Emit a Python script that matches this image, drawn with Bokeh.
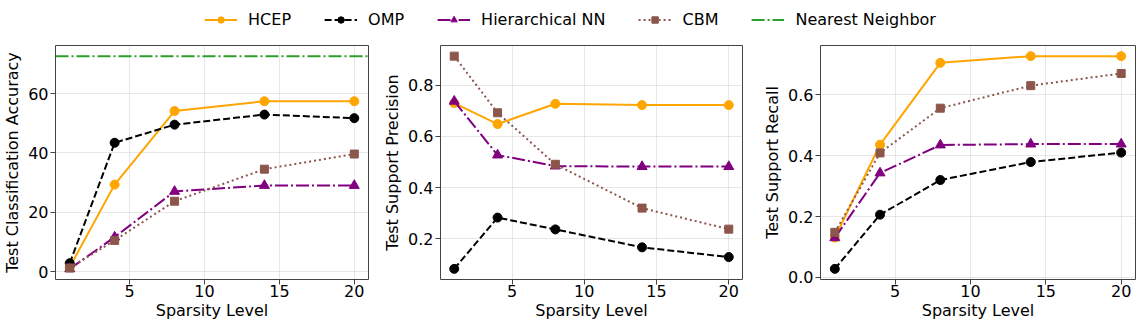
from bokeh.plotting import figure
from bokeh.layouts import column, row
from bokeh.models import Range1d, FixedTicker, PrintfTickFormatter, Span, Legend, LegendItem, ColumnDataSource
from bokeh.embed import file_html
from bokeh.resources import INLINE

# ---- data ----
sparsity = [1, 4, 8, 14, 20]
series_names = ["HCEP", "OMP", "Hierarchical NN", "CBM"]
acc_hcep = [1.5, 29.3, 54.1, 57.4, 57.4]
acc_omp = [2.8, 43.4, 49.5, 52.9, 51.7]
acc_hnn = [0.9, 11.6, 27.0, 29.0, 29.0]
acc_cbm = [1.2, 10.5, 23.7, 34.5, 39.6]
acc_nearest = 72.6
prec_hcep = [0.730, 0.648, 0.727, 0.722, 0.722]
prec_omp = [0.083, 0.283, 0.237, 0.167, 0.129]
prec_hnn = [0.737, 0.527, 0.484, 0.482, 0.482]
prec_cbm = [0.913, 0.692, 0.491, 0.320, 0.238]
rec_hcep = [0.131, 0.436, 0.705, 0.727, 0.727]
rec_omp = [0.028, 0.206, 0.320, 0.379, 0.410]
rec_hnn = [0.130, 0.343, 0.435, 0.438, 0.438]
rec_cbm = [0.148, 0.409, 0.556, 0.630, 0.670]
x_ticks = [5, 10, 15, 20]
acc_ticks = [0, 20, 40, 60]
prec_ticks = [0.2, 0.4, 0.6, 0.8]
rec_ticks = [0.0, 0.2, 0.4, 0.6]

# ---- styles ----
FONT = "DejaVu Sans"
FS = "16px"
styles = {
    "HCEP": dict(color="#FFA500", dash="solid", marker="circle", size=9),
    "OMP": dict(color="#000000", dash="7 3", marker="circle", size=9),
    "Hierarchical NN": dict(color="#800080", dash="13 3 2 3", marker="triangle", size=10),
    "CBM": dict(color="#8c564b", dash="2 3", marker="square", size=8),
}
NN_COLOR = "#2ca02c"
NN_DASH = "13 3 2 3"


def padded(vals):
    lo, hi = min(vals), max(vals)
    pad = 0.05 * (hi - lo)
    return Range1d(lo - pad, hi + pad)


def style_axis(ax, tick_standoff, label_standoff):
    ax.axis_line_color = None
    ax.major_tick_out = 5
    ax.major_tick_in = 0
    ax.minor_tick_line_color = None
    ax.major_tick_line_color = "#444444"
    ax.major_label_text_font = FONT
    ax.major_label_text_font_size = FS
    ax.major_label_text_color = "black"
    ax.axis_label_text_font = FONT
    ax.axis_label_text_font_size = FS
    ax.axis_label_text_font_style = "normal"
    ax.axis_label_text_color = "black"
    ax.major_label_standoff = tick_standoff
    ax.axis_label_standoff = label_standoff


def panel(width, height, left, right, ylabel, series, yticks, yfmt, extra=None):
    allv = [v for s in series for v in s]
    if extra is not None:
        allv.append(extra)
    p = figure(width=width, height=height, output_backend="svg", toolbar_location=None,
               x_range=padded(sparsity), y_range=padded(allv),
               min_border_left=left, min_border_right=right, min_border_top=7, min_border_bottom=44)
    p.outline_line_color = "#444444"
    p.outline_line_width = 1
    style_axis(p.xaxis[0], 0, 1)
    style_axis(p.yaxis[0], 2, 3)
    p.xaxis.ticker = FixedTicker(ticks=x_ticks)
    p.yaxis.ticker = FixedTicker(ticks=yticks)
    p.yaxis.formatter = PrintfTickFormatter(format=yfmt)
    p.xaxis.axis_label = "Sparsity Level"
    p.yaxis.axis_label = ylabel
    p.grid.grid_line_color = "#b0b0b0"
    p.grid.grid_line_alpha = 0.3
    p.grid.grid_line_width = 1
    if extra is not None:
        p.add_layout(Span(location=extra, dimension="width", line_color=NN_COLOR,
                          line_dash=NN_DASH, line_width=2))
    for name, ys in zip(series_names, series):
        st = styles[name]
        src = ColumnDataSource(dict(x=sparsity, y=ys))
        p.line("x", "y", source=src, line_color=st["color"], line_dash=st["dash"], line_width=2)
        p.scatter("x", "y", source=src, marker=st["marker"], size=st["size"],
                  fill_color=st["color"], line_color=st["color"])
    return p


H = 285
p1 = panel(380, H, 53, 12, "Test Classification Accuracy",
           [acc_hcep, acc_omp, acc_hnn, acc_cbm], acc_ticks, "%d", extra=acc_nearest)
p2 = panel(380, H, 56, 18, "Test Support Precision",
           [prec_hcep, prec_omp, prec_hnn, prec_cbm], prec_ticks, "%.1f")
p3 = panel(380, H, 60, 5, "Test Support Recall",
           [rec_hcep, rec_omp, rec_hnn, rec_cbm], rec_ticks, "%.1f")

# ---- legend strip (its renderers hold the accuracy data, kept outside the visible range) ----
lg = figure(width=1140, height=38, output_backend="svg", toolbar_location=None,
            x_range=Range1d(1000, 1001), y_range=Range1d(1000, 1001),
            x_axis_type=None, y_axis_type=None, min_border=0)
lg.outline_line_color = None
lg.grid.grid_line_color = None
items = []
for name, ys in zip(series_names, [acc_hcep, acc_omp, acc_hnn, acc_cbm]):
    st = styles[name]
    src = ColumnDataSource(dict(x=sparsity, y=ys))
    r1 = lg.line("x", "y", source=src, line_color=st["color"], line_dash=st["dash"], line_width=2)
    r2 = lg.scatter("x", "y", source=src, marker=st["marker"], size=st["size"],
                    fill_color=st["color"], line_color=st["color"])
    items.append(LegendItem(label=name, renderers=[r1, r2]))
rn = lg.line("x", "y", source=ColumnDataSource(dict(x=sparsity, y=[acc_nearest] * len(sparsity))),
             line_color=NN_COLOR, line_dash=NN_DASH, line_width=2)
items.append(LegendItem(label="Nearest Neighbor", renderers=[rn]))
legend = Legend(items=items, orientation="horizontal", location="center",
                border_line_color=None, background_fill_alpha=0,
                label_text_font=FONT, label_text_font_size=FS, label_text_color="black",
                glyph_width=33, glyph_height=16, label_standoff=11, spacing=33,
                padding=2, margin=0)
lg.add_layout(legend, "center")

layout = column(lg, row(p1, p2, p3))
open("out.html", "w").write(file_html(layout, INLINE))
